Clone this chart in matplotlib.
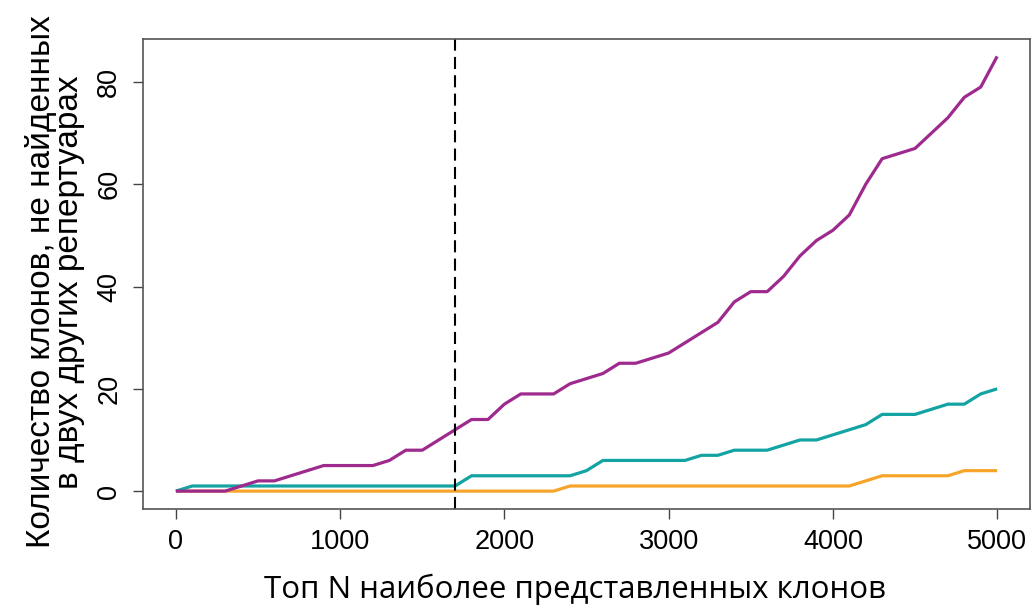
import numpy as np
import matplotlib
matplotlib.use('Agg')
import matplotlib.pyplot as plt

top_n = np.arange(0, 5001, 100)

purple = [0, 0, 0, 0, 1, 2, 2, 3, 4, 5,
          5, 5, 5, 6, 8, 8, 10, 12, 14, 14,
          17, 19, 19, 19, 21, 22, 23, 25, 25, 26,
          27, 29, 31, 33, 37, 39, 39, 42, 46, 49,
          51, 54, 60, 65, 66, 67, 70, 73, 77, 79,
          85]
teal = [0, 1, 1, 1, 1, 1, 1, 1, 1, 1,
        1, 1, 1, 1, 1, 1, 1, 1, 3, 3,
        3, 3, 3, 3, 3, 4, 6, 6, 6, 6,
        6, 6, 7, 7, 8, 8, 8, 9, 10, 10,
        11, 12, 13, 15, 15, 15, 16, 17, 17, 19,
        20]
orange = [0] * 24 + [1] * 18 + [2, 3, 3, 3, 3, 3, 4, 4, 4]

cutoff = 1700
x_ticks = [0, 1000, 2000, 3000, 4000, 5000]
y_ticks = [0, 20, 40, 60, 80]


def main():
    fig = plt.figure(figsize=(10.32, 6.08), dpi=100)
    ax = fig.add_axes([143 / 1032, 1 - 508.5 / 608, 887 / 1032, 469.5 / 608])

    ax.plot(top_n, orange, color='#F7A52A', lw=2.3, solid_capstyle='butt')
    ax.plot(top_n, teal, color='#14A3A3', lw=2.3, solid_capstyle='butt')
    ax.plot(top_n, purple, color='#9E2A8E', lw=2.3, solid_capstyle='butt')
    ax.axvline(cutoff, color='black', lw=1.5, dashes=(5.8, 3))

    ax.set_xlim(-200, 5200)
    ax.set_ylim(-3.4, 88.4)
    ax.set_xticks(x_ticks)
    ax.set_yticks(y_ticks)
    ax.set_xticklabels([str(t) for t in x_ticks], fontsize=19.5, family='Liberation Sans')
    ax.set_yticklabels([str(t) for t in y_ticks], fontsize=19.5, family='Liberation Sans',
                       rotation=90, va='center')
    ax.tick_params(axis='both', length=7, width=1, color='#444444', pad=8)
    for s in ax.spines.values():
        s.set_color('#555555')
        s.set_linewidth(1.2)

    fig.text(575 / 1032, 1 - 589 / 608, 'Топ N наиболее представленных клонов',
             ha='center', va='center', fontsize=22.5, family='Open Sans')
    fig.text(55 / 1032, 1 - 282 / 608,
             'Количество клонов, не найденных\nв двух других репертуарах',
             ha='center', va='center', rotation=90, fontsize=24,
             family='Liberation Sans', linespacing=0.88, multialignment='center')

    fig.savefig('out.png', dpi=100)


if __name__ == '__main__':
    main()
